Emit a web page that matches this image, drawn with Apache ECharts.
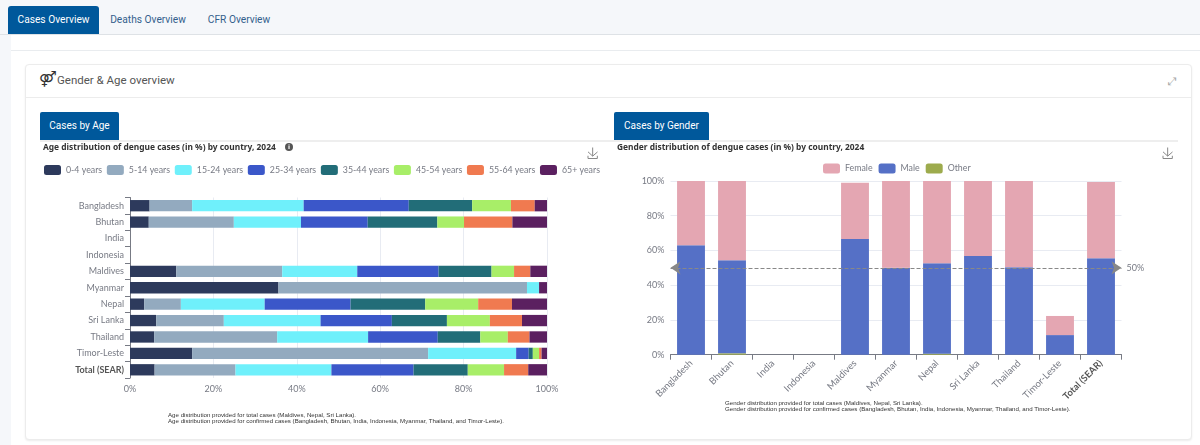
<!DOCTYPE html>
<html>
<head>
<meta charset="utf-8">
<script src="https://cdn.jsdelivr.net/npm/echarts@6/dist/echarts.min.js"></script>
<style>
  html, body { margin: 0; padding: 0; width: 1200px; height: 445px; overflow: hidden; background: #f5f7fa;
    font-family: Roboto, sans-serif; }
  .abs { position: absolute; box-sizing: border-box; }
  .tabbar-line { left: 0; top: 34px; width: 1200px; height: 1px; background: #dee2e6; }
  .content { left: 11px; top: 35px; width: 1189px; height: 410px; background: #fff; }
  .content-line { left: 11px; top: 50px; width: 1189px; height: 1px; background: #e9ecef; }
  .tab { top: 6px; height: 28px; line-height: 28px; font-size: 10.2px; text-align: center; color: #33608c; }
  .tab.on { background: #00589b; color: #fff; border-radius: 3px 3px 0 0; }
  .card { left: 25px; top: 64px; width: 1167px; height: 376px; background: #fff; border: 1px solid #ececec; border-radius: 4px;
    box-shadow: 0 1px 2px rgba(0,0,0,.08); }
  .card-line { left: 26px; top: 97px; width: 1165px; height: 1px; background: #ececec; }
  .card-icon { left: 39px; top: 68px; font: bold 15px/22px "DejaVu Sans"; color: #333; }
  .card-title { left: 57px; top: 70px; font-size: 11.5px; line-height: 20px; color: #555; }
  .expand { left: 1168px; top: 72px; font: 11px/20px "DejaVu Sans"; color: #a8a8a8; }
  .subtab { top: 112px; height: 28px; line-height: 28px; background: #00589b; color: #fff; font-size: 10px; text-align: center;
    border-radius: 2px 2px 0 0; }
  .sub-line { left: 40px; top: 140px; width: 1138px; height: 2px; background: #eeeeee; }
  .info { left: 285px; top: 143px; width: 8px; height: 8px; border-radius: 50%; background: #555; color: #fff;
    font: bold 6px/8px "DejaVu Sans"; text-align: center; z-index: 5; }
  #ageChart { left: 30px; top: 140px; width: 570px; height: 290px; }
  #genderChart { left: 605px; top: 140px; width: 570px; height: 290px; }
</style>
</head>
<body>
<div class="abs tabbar-line"></div>
<div class="abs content"></div>
<div class="abs content-line"></div>
<div class="abs tab on" style="left:8px;width:91px">Cases Overview</div>
<div class="abs tab" style="left:99px;width:98px">Deaths Overview</div>
<div class="abs tab" style="left:197px;width:84px">CFR Overview</div>
<div class="abs card"></div>
<div class="abs card-line"></div>
<div class="abs card-icon">⚤</div>
<div class="abs card-title">Gender &amp; Age overview</div>
<div class="abs expand">⤢</div>
<div class="abs subtab" style="left:40px;width:79px">Cases by Age</div>
<div class="abs subtab" style="left:614px;width:95px">Cases by Gender</div>
<div class="abs sub-line"></div>
<div class="abs info">i</div>
<div class="abs" id="ageChart"></div>
<div class="abs" id="genderChart"></div>

<script>
// Dengue case distribution by country, 2024
const countries = ['Bangladesh', 'Bhutan', 'India', 'Indonesia', 'Maldives', 'Myanmar', 'Nepal', 'Sri Lanka', 'Thailand', 'Timor-Leste', 'Total (SEAR)'];

const ageGroups = ['0-4 years', '5-14 years', '15-24 years', '25-34 years', '35-44 years', '45-54 years', '55-64 years', '65+ years'];
const ageColors = ['#2d3a5c', '#93aabf', '#6ff0fb', '#3b57c9', '#226d78', '#a8ee68', '#f07a50', '#5b2060'];

const age0to4   = [4.7, 4.5, null, null, 11.1, 35.6, 3.4, 6.3, 5.8, 14.9, 5.9];
const age5to14  = [10.2, 20.4, null, null, 25.4, 59.6, 8.8, 16.2, 29.5, 56.6, 19.4];
const age15to24 = [26.75, 16.1, null, null, 18.0, 2.9, 20.1, 23.2, 21.8, 21.1, 23.0];
const age25to34 = [25.2, 16.0, null, null, 19.5, 0, 20.6, 17.1, 16.7, 3.0, 19.7];
const age35to44 = [15.2, 16.7, null, null, 12.7, 0, 17.9, 13.2, 10.2, 1.0, 13.0];
const age45to54 = [9.3, 6.4, null, null, 5.4, 0, 12.7, 10.3, 6.6, 1.5, 8.7];
const age55to64 = [5.7, 11.6, null, null, 3.9, 0, 8.1, 7.7, 5.2, 0.6, 5.8];
const age65plus = [3.0, 8.3, null, null, 4.0, 1.9, 8.4, 6.0, 4.2, 1.3, 4.5];
const ageValues = [age0to4, age5to14, age15to24, age25to34, age35to44, age45to54, age55to64, age65plus];

const genderFemale = [37.0, 45.6, null, null, 32.4, 49.9, 47.4, 43.2, 49.7, 11.0, 43.9];
const genderMale   = [63.0, 53.6, null, null, 66.6, 50.1, 52.0, 56.8, 50.3, 11.3, 55.5];
const genderOther  = [0, 0.8, null, null, 0, 0, 0.6, 0, 0, 0, 0];

const percentTicks = v => v + '%';
const textFont = 'Lato';
const axisGrey = '#777a84';
const countryLabel = v => v.startsWith('Total') ? '{tot|' + v + '}' : v;

const saveTool = {
  right: 0, top: 5, padding: 0, itemSize: 11,
  feature: { saveAsImage: { title: 'Download' } },
  iconStyle: { borderColor: '#888' }
};
const footStyle = { fontFamily: 'Liberation Sans', fontSize: 6.15, fontWeight: 'normal', color: '#333', lineHeight: 6 };
const headStyle = { fontFamily: 'Noto Sans', fontSize: 8.4, fontWeight: 'bold', color: '#333' };

const ageChart = echarts.init(document.getElementById('ageChart'));
ageChart.setOption({
  animation: false,
  title: [
    { text: 'Age distribution of dengue cases (in %) by country, 2024', left: 13, top: 4, padding: 0, textStyle: headStyle },
    { text: 'Age distribution provided for total cases (Maldives, Nepal, Sri Lanka).\nAge distribution provided for confirmed cases (Bangladesh, Bhutan, India, Indonesia, Myanmar, Thailand, and Timor-Leste).',
      left: 138, top: 272, padding: 0, textStyle: footStyle }
  ],
  toolbox: saveTool,
  tooltip: { trigger: 'axis', axisPointer: { type: 'shadow' } },
  legend: {
    data: ageGroups, left: 14, top: 25, width: 556, padding: 0, itemWidth: 17, itemHeight: 10, itemGap: 4.7,
    textStyle: { fontFamily: textFont, fontSize: 8.8, color: axisGrey }
  },
  grid: { left: 100, right: 53, top: 57.5, height: 180.5 },
  xAxis: {
    type: 'value', min: 0, max: 100, interval: 20,
    axisLabel: { formatter: percentTicks, fontFamily: textFont, fontSize: 9, color: axisGrey, margin: 7 },
    axisLine: { show: false }, axisTick: { show: false },
    splitLine: { lineStyle: { color: '#e8ebf2' } }
  },
  yAxis: {
    type: 'category', inverse: true, data: countries,
    axisLine: { show: true, lineStyle: { color: axisGrey } },
    axisTick: { show: true, lineStyle: { color: axisGrey } },
    axisLabel: {
      formatter: countryLabel, fontFamily: textFont, fontSize: 9, color: axisGrey, margin: 6,
      rich: { tot: { fontWeight: 'bold', color: '#555', fontFamily: textFont, fontSize: 9 } }
    }
  },
  series: ageGroups.map((name, i) => ({
    name, type: 'bar', stack: 'age', barWidth: '69%',
    itemStyle: { color: ageColors[i] }, data: ageValues[i]
  })),
  color: ageColors
});

const genderChart = echarts.init(document.getElementById('genderChart'));
genderChart.setOption({
  animation: false,
  title: [
    { text: 'Gender distribution of dengue cases (in %) by country, 2024', left: 12, top: 4, padding: 0, textStyle: headStyle },
    { text: 'Gender distribution provided for total cases (Maldives, Nepal, Sri Lanka).\nGender distribution provided for confirmed cases (Bangladesh, Bhutan, India, Indonesia, Myanmar, Thailand, and Timor-Leste).',
      left: 120, top: 260, padding: 0, textStyle: footStyle }
  ],
  toolbox: saveTool,
  tooltip: { trigger: 'axis', axisPointer: { type: 'shadow' } },
  legend: {
    data: ['Female', 'Male', 'Other'], left: 218, top: 23.5, padding: 0, itemWidth: 17, itemHeight: 10, itemGap: 6,
    textStyle: { fontFamily: textFont, fontSize: 8.8, color: axisGrey }
  },
  grid: { left: 65.5, width: 451, top: 41, height: 173.7 },
  xAxis: {
    type: 'category', data: countries,
    axisLine: { lineStyle: { color: axisGrey } },
    axisTick: { show: true, lineStyle: { color: axisGrey } },
    axisLabel: {
      formatter: countryLabel, rotate: 45, interval: 0, fontFamily: textFont, fontSize: 9.5, color: axisGrey, margin: 7,
      rich: { tot: { fontWeight: 'bold', color: '#555', fontFamily: textFont, fontSize: 9.5 } }
    }
  },
  yAxis: {
    type: 'value', min: 0, max: 100, interval: 20,
    axisLabel: { formatter: percentTicks, fontFamily: textFont, fontSize: 9, color: axisGrey, margin: 6 },
    axisLine: { show: false }, axisTick: { show: false },
    splitLine: { lineStyle: { color: '#e8ebf2' } }
  },
  series: [
    { name: 'Other', type: 'bar', stack: 'gender', barWidth: '68%', itemStyle: { color: '#9dab4d' }, data: genderOther },
    { name: 'Male', type: 'bar', stack: 'gender', itemStyle: { color: '#5570c6' }, data: genderMale,
      markLine: {
        silent: true, symbol: ['arrow', 'arrow'], symbolSize: 10, z: 10,
        lineStyle: { color: '#888', type: 'dashed', width: 1 },
        label: { formatter: '50%', position: 'end', fontFamily: textFont, fontSize: 9, color: axisGrey },
        data: [{ yAxis: 50 }]
      } },
    { name: 'Female', type: 'bar', stack: 'gender', itemStyle: { color: '#e4a6b2' }, data: genderFemale }
  ]
});
</script>
</body>
</html>
